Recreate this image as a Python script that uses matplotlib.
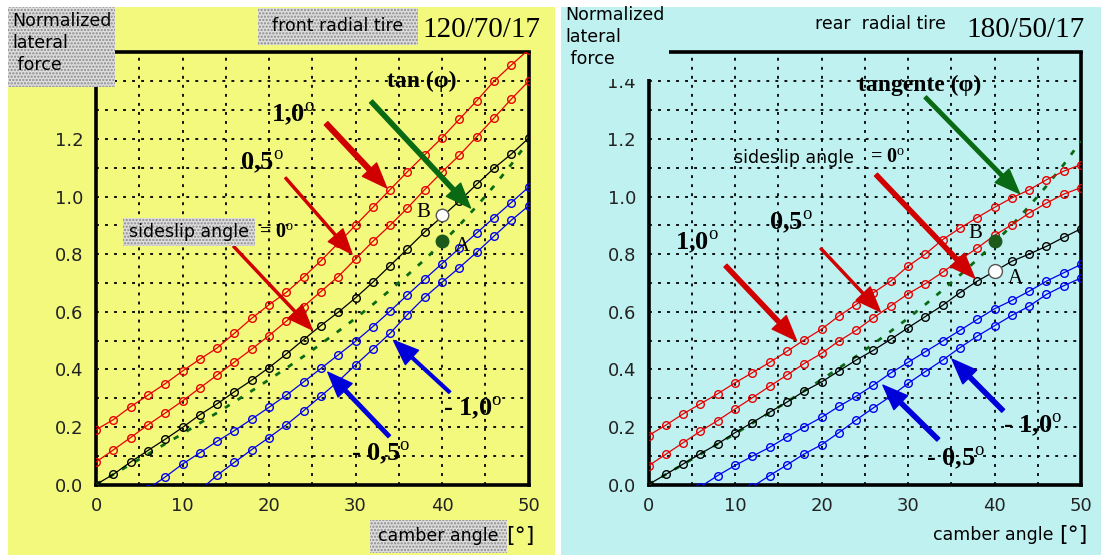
import matplotlib.pyplot as plt
import numpy as np
from matplotlib.patches import Rectangle

nan = np.nan

# camber angle [deg], one marker every 2 deg
camber = [0, 2, 4, 6, 8, 10, 12, 14, 16, 18, 20, 22, 24, 26, 28, 30,
          32, 34, 36, 38, 40, 42, 44, 46, 48, 50]

# tan(camber), green dashed reference, same on both tires
tan_phi = [0, 0.035, 0.070, 0.105, 0.141, 0.176, 0.213, 0.249, 0.287, 0.325,
           0.364, 0.404, 0.445, 0.488, 0.532, 0.577, 0.625, 0.675, 0.727, 0.781,
           0.839, 0.900, 0.966, 1.036, 1.111, 1.192]

# front radial tire 120/70/17 - normalized lateral force per sideslip angle
front_p10 = [0.19, 0.225, 0.27, 0.31, 0.35, 0.394, 0.435, 0.474, 0.525, 0.577,
             0.624, 0.667, 0.72, 0.777, 0.838, 0.90, 0.962, 1.024, 1.086, 1.145,
             1.204, 1.268, 1.332, 1.40, 1.456, 1.51]
front_p05 = [0.078, 0.12, 0.163, 0.207, 0.248, 0.29, 0.335, 0.38, 0.425, 0.47,
             0.517, 0.567, 0.618, 0.67, 0.722, 0.783, 0.844, 0.90, 0.96, 1.024,
             1.085, 1.143, 1.207, 1.272, 1.338, 1.40]
front_00 = [0, 0.035, 0.078, 0.118, 0.157, 0.198, 0.242, 0.28, 0.322, 0.362,
            0.406, 0.453, 0.503, 0.552, 0.598, 0.648, 0.702, 0.76, 0.818, 0.877,
            0.93, 0.984, 1.042, 1.098, 1.147, 1.202]
front_m05 = [nan, nan, nan, -0.015, 0.026, 0.071, 0.11, 0.15, 0.187, 0.227,
             0.268, 0.31, 0.356, 0.403, 0.45, 0.497, 0.548, 0.602, 0.658, 0.713,
             0.767, 0.82, 0.873, 0.926, 0.979, 1.032]
front_m10 = [nan, nan, nan, nan, nan, nan, -0.02, 0.032, 0.077, 0.121,
             0.163, 0.207, 0.256, 0.307, 0.358, 0.415, 0.47, 0.525, 0.59, 0.65,
             0.702, 0.753, 0.806, 0.862, 0.917, 0.967]

# rear radial tire 180/50/17
rear_p10 = [0.17, 0.206, 0.245, 0.28, 0.315, 0.353, 0.388, 0.424, 0.462, 0.502,
            0.539, 0.585, 0.625, 0.666, 0.706, 0.758, 0.80, 0.85, 0.89, 0.927,
            0.962, 0.995, 1.023, 1.058, 1.088, 1.111]
rear_p05 = [0.065, 0.105, 0.145, 0.185, 0.222, 0.262, 0.301, 0.341, 0.38, 0.42,
            0.455, 0.498, 0.535, 0.579, 0.62, 0.662, 0.697, 0.737, 0.78, 0.821,
            0.865, 0.902, 0.942, 0.977, 1.008, 1.031]
rear_00 = [0, 0.035, 0.071, 0.107, 0.141, 0.18, 0.215, 0.251, 0.286, 0.324,
           0.356, 0.394, 0.432, 0.466, 0.504, 0.544, 0.583, 0.622, 0.666, 0.706,
           0.74, 0.775, 0.80, 0.827, 0.858, 0.888]
rear_m05 = [nan, nan, nan, -0.008, 0.031, 0.066, 0.098, 0.129, 0.165, 0.2,
            0.233, 0.271, 0.306, 0.345, 0.387, 0.424, 0.461, 0.498, 0.535, 0.573,
            0.61, 0.639, 0.671, 0.706, 0.735, 0.764]
rear_m10 = [nan, nan, nan, nan, nan, nan, -0.008, 0.031, 0.068, 0.106,
            0.138, 0.18, 0.224, 0.266, 0.306, 0.351, 0.392, 0.432, 0.475, 0.515,
            0.551, 0.587, 0.619, 0.66, 0.69, 0.717]

# points A / B at 40 deg camber
front_A = (40, 0.844)
front_B = (40, 0.937)
rear_A = (40, 0.74)
rear_B = (40, 0.847)

YELLOW = '#f3f97d'
CYAN = '#c0f1f1'
RED = '#e80000'
BLUE = '#0000f0'
DKGREEN = '#0a6a14'
SERIF = 'Liberation Serif'
SANS = 'DejaVu Sans'

plt.rcParams['hatch.linewidth'] = 1.1
plt.rcParams['hatch.color'] = '#888888'
# superscript "o" after the angles, in the same serif
plt.rcParams['mathtext.fontset'] = 'custom'
plt.rcParams['mathtext.rm'] = 'Liberation Serif'
plt.rcParams['mathtext.bf'] = 'Liberation Serif:bold'

DEG = r'$^\mathrm{o}$'

W, H = 1101, 555
fig = plt.figure(figsize=(W / 100, H / 100), dpi=100, facecolor='white')


def box(x0, y0, x1, y1, color, hatch=None, z=5):
    # rectangle given in picture pixels (top-left origin)
    r = Rectangle((x0 / W, 1 - y1 / H), (x1 - x0) / W, (y1 - y0) / H,
                  transform=fig.transFigure, facecolor=color, hatch=hatch,
                  edgecolor='#8a8a8a' if hatch else 'none', linewidth=0, zorder=z)
    fig.add_artist(r)


def ftext(x, y, s, **kw):
    kw.setdefault('family', SANS)
    kw.setdefault('fontsize', 12.5)
    kw.setdefault('ha', 'center')
    kw.setdefault('va', 'center')
    fig.text(x / W, 1 - y / H, s, zorder=10, **kw)


def arrow(ax, tail, tip, color, width, hw=14, hl=18):
    ax.annotate('', xy=tip, xytext=tail, zorder=8,
                arrowprops=dict(facecolor=color, edgecolor=color, width=width,
                                headwidth=hw, headlength=hl, shrink=0))


def make_axes(x0, bg, ylabels):
    ax = fig.add_axes([x0 / W, 1 - 484.5 / H, 432.5 / W, 432 / H])
    ax.set_facecolor(bg)
    ax.set_xlim(0, 50)
    ax.set_ylim(0, 1.5)
    ax.set_xticks([0, 10, 20, 30, 40, 50])
    ax.set_xticks([5, 15, 25, 35, 45], minor=True)
    ax.set_yticks([0, 0.2, 0.4, 0.6, 0.8, 1.0, 1.2, 1.4])
    ax.set_yticks([0.1, 0.3, 0.5, 0.7, 0.9, 1.1, 1.3], minor=True)
    ax.set_yticklabels(ylabels)
    ax.grid(which='both', color='black', linestyle=(0, (1.6, 3.4)), linewidth=1.3)
    ax.set_axisbelow(True)
    ax.tick_params(which='both', length=0, labelsize=13, pad=9,
                   labelcolor='#222222')
    for sp in ax.spines.values():
        sp.set_linewidth(2.6)
    return ax


def draw_curves(ax, curves):
    for vals, col in curves:
        ax.plot(camber, vals, color=col, lw=0.9, marker='o', markersize=5.5,
                markerfacecolor='none', markeredgewidth=1.0, zorder=4)
    ax.plot(camber, tan_phi, color=DKGREEN, lw=2.0, linestyle=(0, (2.0, 3.4)),
            zorder=3)


# panel backgrounds
box(8, 7, 555, 555, YELLOW, z=-10)
box(561, 7, 1101, 555, CYAN, z=-10)

ylabels = ['0.0', '0.2', '0.4', '0.6', '0.8', '1.0', '1.2', '1.4']

# ---------------- front tire ----------------
ax1 = make_axes(96, YELLOW, ylabels[:-1] + [''])
draw_curves(ax1, [(front_p10, RED), (front_p05, RED), (front_00, 'black'),
                  (front_m05, BLUE), (front_m10, BLUE)])
ax1.plot(*front_B, 'o', ms=9, mfc='white', mec='#555555', mew=1, zorder=6)
ax1.plot(*front_A, 'o', ms=9, mfc='#1c5a1c', mec='#1c5a1c', zorder=6)
ax1.text(37.8, 0.943, 'B', family=SERIF, fontsize=15, ha='center', va='center', zorder=7)
ax1.text(42.4, 0.826, 'A', family=SERIF, fontsize=15, ha='center', va='center', zorder=7)

arrow(ax1, (31.8, 1.33), (43.3, 0.96), DKGREEN, 3)
arrow(ax1, (26.6, 1.254), (33.6, 1.03), '#d00000', 3.5)
arrow(ax1, (21.9, 1.065), (29.6, 0.80), '#d00000', 1.5)
arrow(ax1, (15.9, 0.827), (25.0, 0.537), '#d00000', 1.5)
arrow(ax1, (40.9, 0.32), (34.4, 0.50), '#0000d8', 2)
arrow(ax1, (33.9, 0.167), (26.8, 0.39), '#0000d8', 2.5)

bold = dict(family=SERIF, fontweight='bold', ha='center', va='center', zorder=9)
ax1.text(37.7, 1.40, 'tan (φ)', fontsize=17, **bold)
ax1.text(22.8, 1.286, '1,0' + DEG, fontsize=19, **bold)
ax1.text(19.2, 1.118, '0,5' + DEG, fontsize=19, **bold)
ax1.text(20.9, 0.873, '= 0' + DEG, fontsize=14.5, **bold)
ax1.text(43.5, 0.265, '- 1,0' + DEG, fontsize=19, **bold)
ax1.text(32.9, 0.11, '- 0,5' + DEG, fontsize=19, **bold)

# ---------------- rear tire ----------------
ax2 = make_axes(648.5, CYAN, ylabels)
draw_curves(ax2, [(rear_p10, RED), (rear_p05, RED), (rear_00, 'black'),
                  (rear_m05, BLUE), (rear_m10, BLUE)])
ax2.plot(*rear_A, 'o', ms=10, mfc='white', mec='#555555', mew=1, zorder=6)
ax2.plot(*rear_B, 'o', ms=9, mfc='#1c5a1c', mec='#1c5a1c', zorder=6)
ax2.text(37.8, 0.873, 'B', family=SERIF, fontsize=15, ha='center', va='center', zorder=7)
ax2.text(42.4, 0.717, 'A', family=SERIF, fontsize=15, ha='center', va='center', zorder=7)

arrow(ax2, (32.0, 1.345), (42.9, 1.01), DKGREEN, 2.5)
arrow(ax2, (26.3, 1.076), (37.7, 0.717), '#d00000', 3)
arrow(ax2, (19.9, 0.82), (26.8, 0.60), '#d00000', 1.5)
arrow(ax2, (8.9, 0.76), (17.1, 0.50), '#d00000', 3)
arrow(ax2, (41.0, 0.256), (35.1, 0.435), '#0000d8', 3)
arrow(ax2, (33.5, 0.156), (27.1, 0.345), '#0000d8', 3)

ax2.text(31.4, 1.386, 'tangente (φ)', fontsize=17, **bold)
ax2.text(16.8, 1.135, 'sideslip angle', family=SANS, fontsize=12.5,
         ha='center', va='center', zorder=9)
ax2.text(27.6, 1.135, '= 0' + DEG, fontsize=14.5, **bold)
ax2.text(16.5, 0.91, '0,5' + DEG, fontsize=19, **bold)
ax2.text(5.6, 0.84, '1,0' + DEG, fontsize=19, **bold)
ax2.text(44.4, 0.204, '- 1,0' + DEG, fontsize=19, **bold)
ax2.text(35.5, 0.092, '- 0,5' + DEG, fontsize=19, **bold)

# ---------------- overlays / headers ----------------
# front
box(8, 7, 115, 87, '#dedede', hatch='.....')
ftext(12, 12, 'Normalized\nlateral\n force', ha='left', va='top', linespacing=1.3)
box(258, 8, 418, 45, '#dedede', hatch='.....')
ftext(338, 26, 'front radial tire')
ftext(481, 30, '120/70/17', family=SERIF, fontsize=21)
box(123, 218, 255, 246, '#dedede', hatch='.....')
ftext(189, 232, 'sideslip angle')
box(370, 520, 507, 553, '#dedede', hatch='.....')
ftext(438, 536, 'camber angle')
ftext(520, 536, '[°]', fontsize=16)

# rear
box(561, 7, 669, 79, CYAN)
ftext(565, 6, 'Normalized\nlateral\n force', ha='left', va='top', linespacing=1.3)
ftext(880, 24, 'rear  radial tire')
ftext(1026, 30, '180/50/17', family=SERIF, fontsize=21)
ftext(993, 535, 'camber angle')
ftext(1073, 535, '[°]', fontsize=16)

plt.savefig('out.png', dpi=100, facecolor='white')
